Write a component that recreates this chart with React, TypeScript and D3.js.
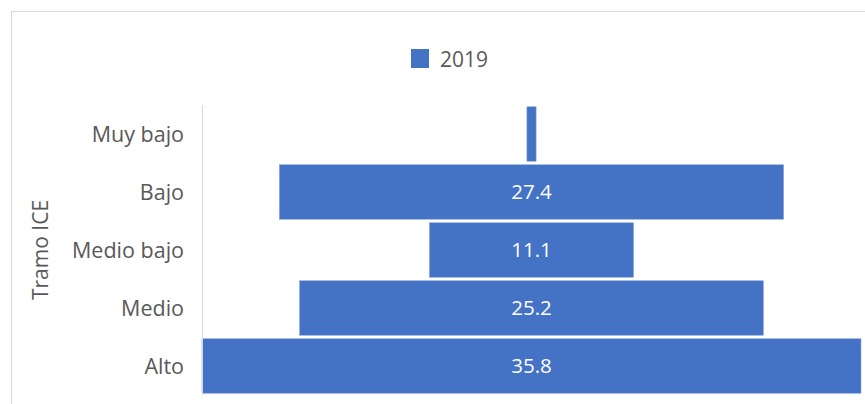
import React from "react";
import * as d3 from "d3";

const categories = ["Muy bajo", "Bajo", "Medio bajo", "Medio", "Alto"];
const values2019 = [0.5, 27.4, 11.1, 25.2, 35.8];
const seriesName = "2019";
const axisTitle = "Tramo ICE";

export default function App() {
  const W = 865, H = 404;
  const plotLeft = 202, plotRight = 861, plotTop = 105, plotBottom = 395;
  const maxV = d3.max(values2019) as number;
  const center = (plotLeft + plotRight) / 2;
  const w = d3.scaleLinear().domain([0, maxV]).range([0, plotRight - plotLeft]);
  const y = d3.scaleBand<string>().domain(categories).range([plotTop, plotBottom]).paddingInner(0.06).paddingOuter(0.03);
  const font = "'Open Sans', sans-serif";
  return (
    <svg width={W} height={H} style={{ position: "absolute", left: 0, top: 0, background: "#fff" }}>
      <rect x={11.5} y={11.5} width={W} height={H} fill="#fff" stroke="#d9d9d9" strokeWidth={1} />
      <rect x={411} y={49} width={18} height={19} fill="#4472C4" />
      <text x={440} y={67} fontFamily={font} fontSize={21} fill="#595959">{seriesName}</text>
      {categories.map((c, i) => {
        const bw = w(values2019[i]);
        const by = y(c) as number;
        return (
          <g key={c}>
            <rect x={center - bw / 2} y={by} width={bw} height={y.bandwidth()} fill="#4472C4" stroke="#8faadc" strokeWidth={0.6} />
            <text x={184} y={by + y.bandwidth() / 2} dy="0.35em" textAnchor="end" fontFamily={font} fontSize={21.5} fill="#595959">{c}</text>
            {values2019[i] > 5 && (
              <text x={center} y={by + y.bandwidth() / 2} dy="0.35em" textAnchor="middle" fontFamily={font} fontSize={20.5} fill="#fff">{values2019[i].toFixed(1)}</text>
            )}
          </g>
        );
      })}
      <line x1={202.5} x2={202.5} y1={plotTop} y2={plotBottom} stroke="#d9d9d9" strokeWidth={1} />
      <text transform={`translate(48,250) rotate(-90)`} textAnchor="middle" fontFamily={font} fontSize={21} fill="#595959">{axisTitle}</text>
    </svg>
  );
}
